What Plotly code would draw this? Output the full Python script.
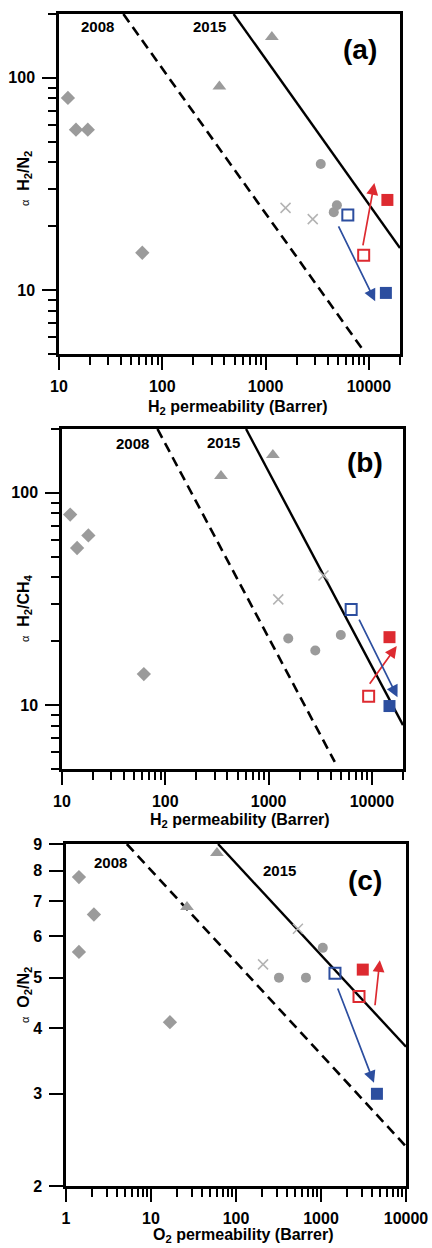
import numpy as np
import plotly.graph_objects as go

# ---------------- data ----------------
# panel (a) H2/N2
A_dia_x = [12.2, 14.6, 19, 64]
A_dia_y = [80.5, 57, 57, 15]
A_tri_x = [357, 1150]
A_tri_y = [91, 156]
A_cir_x = [3420, 4570, 4900]
A_cir_y = [39.3, 23.3, 25.1]
A_crs_x = [1560, 2860]
A_crs_y = [24.4, 21.6]
A_blue_open = [6250, 22.6]
A_blue_fill = [14600, 9.7]
A_red_open = [8900, 14.6]
A_red_fill = [15100, 26.6]
A_red_arrow = [8700, 16.0, 11300, 32.0]    # tail x, tail y, tip x, tip y
A_blue_arrow = [5000, 20.3, 11500, 8.87]
A_b2008_x = [42, 8700]
A_b2008_y = [200, 5.25]
A_b2015_x = [490, 20000]
A_b2015_y = [200, 15.8]

# panel (b) H2/CH4
B_dia_x = [12, 14, 18, 62]
B_dia_y = [79, 55, 63, 14]
B_tri_x = [346, 1100]
B_tri_y = [120, 151]
B_cir_x = [1550, 2830, 5000]
B_cir_y = [20.6, 18.1, 21.4]
B_crs_x = [1240, 3400]
B_crs_y = [31.5, 40.8]
B_blue_open = [6300, 28.2]
B_blue_fill = [14800, 9.9]
B_red_open = [9300, 11.0]
B_red_fill = [14800, 20.9]
B_red_arrow = [9300, 12.4, 17400, 19.0]
B_blue_arrow = [7400, 25.7, 17700, 10.9]
B_b2008_x = [84, 4370]
B_b2008_y = [200, 5.4]
B_b2015_x = [605, 20000]
B_b2015_y = [200, 8.05]

# panel (c) O2/N2
C_dia_x = [1.42, 2.13, 1.42, 16.7]
C_dia_y = [7.78, 6.6, 5.6, 4.11]
C_tri_x = [26.5, 59.7]
C_tri_y = [6.82, 8.65]
C_cir_x = [320, 665, 1050]
C_cir_y = [5.0, 5.0, 5.7]
C_crs_x = [208, 535]
C_crs_y = [5.3, 6.2]
C_blue_open = [1460, 5.1]
C_blue_fill = [4550, 3.0]
C_red_open = [2800, 4.6]
C_red_fill = [3100, 5.18]
C_red_arrow = [4300, 4.4, 4920, 5.4]
C_blue_arrow = [1550, 4.8, 4200, 3.15]
C_b2008_x = [5.2, 10000]
C_b2008_y = [9, 2.38]
C_b2015_x = [61.5, 10000]
C_b2015_y = [9, 3.69]

H2_major = [10, 100, 1000, 10000]
H2_minor = [m * d for d in [10, 100, 1000] for m in range(2, 10)] + [20000]
O2_major = [1, 10, 100, 1000, 10000]
O2_minor = [m * d for d in [1, 10, 100, 1000] for m in range(2, 10)]
AB_y_major = [10, 100]
AB_y_minor = [5, 6, 7, 8, 9, 20, 30, 40, 50, 60, 70, 80, 90, 200]
C_y_major = [2, 3, 4, 5, 6, 7, 8, 9]

# ---------------- style ----------------
FONT = "Liberation Sans, Arial, sans-serif"
GRAY = "#9b9b9b"
GRAY_X = "#b3b3b3"
RED = "#dd2a30"
BLUE = "#2c4e9f"
W, H = 432, 1248

panels = [
    dict(name="a", xa="x", ya="y",
         dia=(A_dia_x, A_dia_y), tri=(A_tri_x, A_tri_y), cir=(A_cir_x, A_cir_y),
         crs=(A_crs_x, A_crs_y), bo=A_blue_open, bf=A_blue_fill, ro=A_red_open,
         rf=A_red_fill, ra=A_red_arrow, ba=A_blue_arrow,
         l08=(A_b2008_x, A_b2008_y), l15=(A_b2015_x, A_b2015_y),
         px=(59, 400), py=(14, 354), xr=(10, 20000), yr=(5, 200),
         xmaj=H2_major, xmin=H2_minor, ymaj=AB_y_major, ymin=AB_y_minor,
         xtitle="H<sub>2</sub> permeability (Barrer)", xtitle_y=407,
         ytitle="H<sub>2</sub>/N<sub>2</sub>", ytitle_y=179,
         t08=(97, 27), t15=(209, 27), lab=(360, 50)),
    dict(name="b", xa="x2", ya="y2",
         dia=(B_dia_x, B_dia_y), tri=(B_tri_x, B_tri_y), cir=(B_cir_x, B_cir_y),
         crs=(B_crs_x, B_crs_y), bo=B_blue_open, bf=B_blue_fill, ro=B_red_open,
         rf=B_red_fill, ra=B_red_arrow, ba=B_blue_arrow,
         l08=(B_b2008_x, B_b2008_y), l15=(B_b2015_x, B_b2015_y),
         px=(62, 403), py=(429, 769), xr=(10, 20000), yr=(5, 200),
         xmaj=H2_major, xmin=H2_minor, ymaj=AB_y_major, ymin=AB_y_minor,
         xtitle="H<sub>2</sub> permeability (Barrer)", xtitle_y=820,
         ytitle="H<sub>2</sub>/CH<sub>4</sub>", ytitle_y=608,
         t08=(132, 443), t15=(223, 442), lab=(365, 462)),
    dict(name="c", xa="x3", ya="y3",
         dia=(C_dia_x, C_dia_y), tri=(C_tri_x, C_tri_y), cir=(C_cir_x, C_cir_y),
         crs=(C_crs_x, C_crs_y), bo=C_blue_open, bf=C_blue_fill, ro=C_red_open,
         rf=C_red_fill, ra=C_red_arrow, ba=C_blue_arrow,
         l08=(C_b2008_x, C_b2008_y), l15=(C_b2015_x, C_b2015_y),
         px=(66, 406), py=(844, 1186), xr=(1, 10000), yr=(2, 9),
         xmaj=O2_major, xmin=O2_minor, ymaj=C_y_major, ymin=[],
         xtitle="O<sub>2</sub> permeability (Barrer)", xtitle_y=1235,
         ytitle="O<sub>2</sub>/N<sub>2</sub>", ytitle_y=995,
         t08=(110, 862), t15=(279, 870), lab=(365, 880)),
]

fig = go.Figure()
annotations = []
layout = {}

for i, p in enumerate(panels):
    xa, ya = p["xa"], p["ya"]
    common = dict(xaxis=xa, yaxis=ya, showlegend=False, hoverinfo="skip")
    # bound lines
    fig.add_trace(go.Scatter(x=p["l08"][0], y=p["l08"][1], mode="lines",
                             line=dict(color="black", width=2.6, dash="10px,6px"), **common))
    fig.add_trace(go.Scatter(x=p["l15"][0], y=p["l15"][1], mode="lines",
                             line=dict(color="black", width=2.4), **common))
    # grey literature points
    fig.add_trace(go.Scatter(x=p["dia"][0], y=p["dia"][1], mode="markers",
                             marker=dict(symbol="diamond", size=11, color=GRAY), **common))
    fig.add_trace(go.Scatter(x=p["tri"][0], y=p["tri"][1], mode="markers",
                             marker=dict(symbol="triangle-up", size=12, color=GRAY), **common))
    fig.add_trace(go.Scatter(x=p["cir"][0], y=p["cir"][1], mode="markers",
                             marker=dict(symbol="circle", size=10, color=GRAY), **common))
    fig.add_trace(go.Scatter(x=p["crs"][0], y=p["crs"][1], mode="markers",
                             marker=dict(symbol="x-thin-open", size=10, color=GRAY_X,
                                         line=dict(color=GRAY_X, width=1.5)), **common))
    # this work
    fig.add_trace(go.Scatter(x=[p["bo"][0]], y=[p["bo"][1]], mode="markers",
                             marker=dict(symbol="square-open", size=11, color=BLUE,
                                         line=dict(color=BLUE, width=2)), **common))
    fig.add_trace(go.Scatter(x=[p["ro"][0]], y=[p["ro"][1]], mode="markers",
                             marker=dict(symbol="square-open", size=11, color=RED,
                                         line=dict(color=RED, width=2)), **common))
    fig.add_trace(go.Scatter(x=[p["bf"][0]], y=[p["bf"][1]], mode="markers",
                             marker=dict(symbol="square", size=12, color=BLUE), **common))
    fig.add_trace(go.Scatter(x=[p["rf"][0]], y=[p["rf"][1]], mode="markers",
                             marker=dict(symbol="square", size=12, color=RED), **common))
    # arrows
    for arr, col in [(p["ra"], RED), (p["ba"], BLUE)]:
        annotations.append(dict(
            x=np.log10(arr[2]), y=np.log10(arr[3]), ax=np.log10(arr[0]), ay=np.log10(arr[1]),
            xref=xa, yref=ya, axref=xa, ayref=ya, text="", showarrow=True,
            arrowhead=2, arrowsize=1.4, arrowwidth=1.7, arrowcolor=col, standoff=0))

    x0, x1 = p["px"]
    y0, y1 = p["py"]
    suffix = "" if i == 0 else str(i + 1)
    tickfont = dict(family=FONT, size=16, color="black", weight="bold")
    layout["xaxis" + suffix] = dict(
        type="log", domain=[x0 / W, x1 / W], anchor=ya, automargin=False,
        range=[np.log10(p["xr"][0]), np.log10(p["xr"][1])],
        showline=True, linewidth=2.5, linecolor="black", mirror=True,
        showgrid=False, zeroline=False,
        tickmode="array", tickvals=p["xmaj"], ticktext=[str(v) for v in p["xmaj"]],
        ticks="outside", ticklen=13, tickwidth=2, tickcolor="black",
        ticklabelstandoff=3, tickfont=tickfont,
        minor=dict(tickmode="array", tickvals=p["xmin"], ticks="outside",
                   ticklen=8, tickwidth=2, tickcolor="black", showgrid=False),
    )
    layout["yaxis" + suffix] = dict(
        type="log", domain=[1 - y1 / H, 1 - y0 / H], anchor=xa, automargin=False,
        range=[np.log10(p["yr"][0]), np.log10(p["yr"][1])],
        showline=True, linewidth=2.5, linecolor="black", mirror=True,
        showgrid=False, zeroline=False,
        tickmode="array", tickvals=p["ymaj"], ticktext=[str(v) for v in p["ymaj"]],
        ticks="outside", ticklen=14, tickwidth=2, tickcolor="black",
        ticklabelstandoff=4, tickfont=tickfont,
        minor=dict(tickmode="array", tickvals=p["ymin"], ticks="outside",
                   ticklen=8, tickwidth=2, tickcolor="black", showgrid=False),
    )

    def dom(pxy):
        return (pxy[0] - x0) / (x1 - x0), (y1 - pxy[1]) / (y1 - y0)

    for key, txt, size in [("t08", "2008", 15), ("t15", "2015", 15), ("lab", "(" + p["name"] + ")", 28)]:
        fx, fy = dom(p[key])
        annotations.append(dict(
            x=fx, y=fy, xref=xa + " domain", yref=ya + " domain", text="<b>" + txt + "</b>",
            showarrow=False, xanchor="center", yanchor="middle",
            font=dict(family=FONT, size=size, color="black")))
    # axis titles
    annotations.append(dict(
        x=(x0 + x1) / 2 / W + 8 / W, y=1 - p["xtitle_y"] / H, xref="paper", yref="paper",
        text="<b>" + p["xtitle"] + "</b>", showarrow=False, xanchor="center", yanchor="middle",
        font=dict(family=FONT, size=16, color="black")))
    annotations.append(dict(
        x=24 / W, y=1 - p["ytitle_y"] / H, xref="paper", yref="paper",
        text="<span style='font-size:11px'>α</span>  <b>" + p["ytitle"] + "</b>",
        textangle=-90, showarrow=False, xanchor="center", yanchor="middle",
        font=dict(family=FONT, size=16, color="black")))

fig.update_layout(
    width=W, height=H, margin=dict(l=0, r=0, t=0, b=0),
    paper_bgcolor="white", plot_bgcolor="white",
    annotations=annotations, **layout,
)
fig.write_html("out.html", config={"displayModeBar": False},
               post_script="document.body.style.margin='0';document.body.style.overflow='hidden';")
